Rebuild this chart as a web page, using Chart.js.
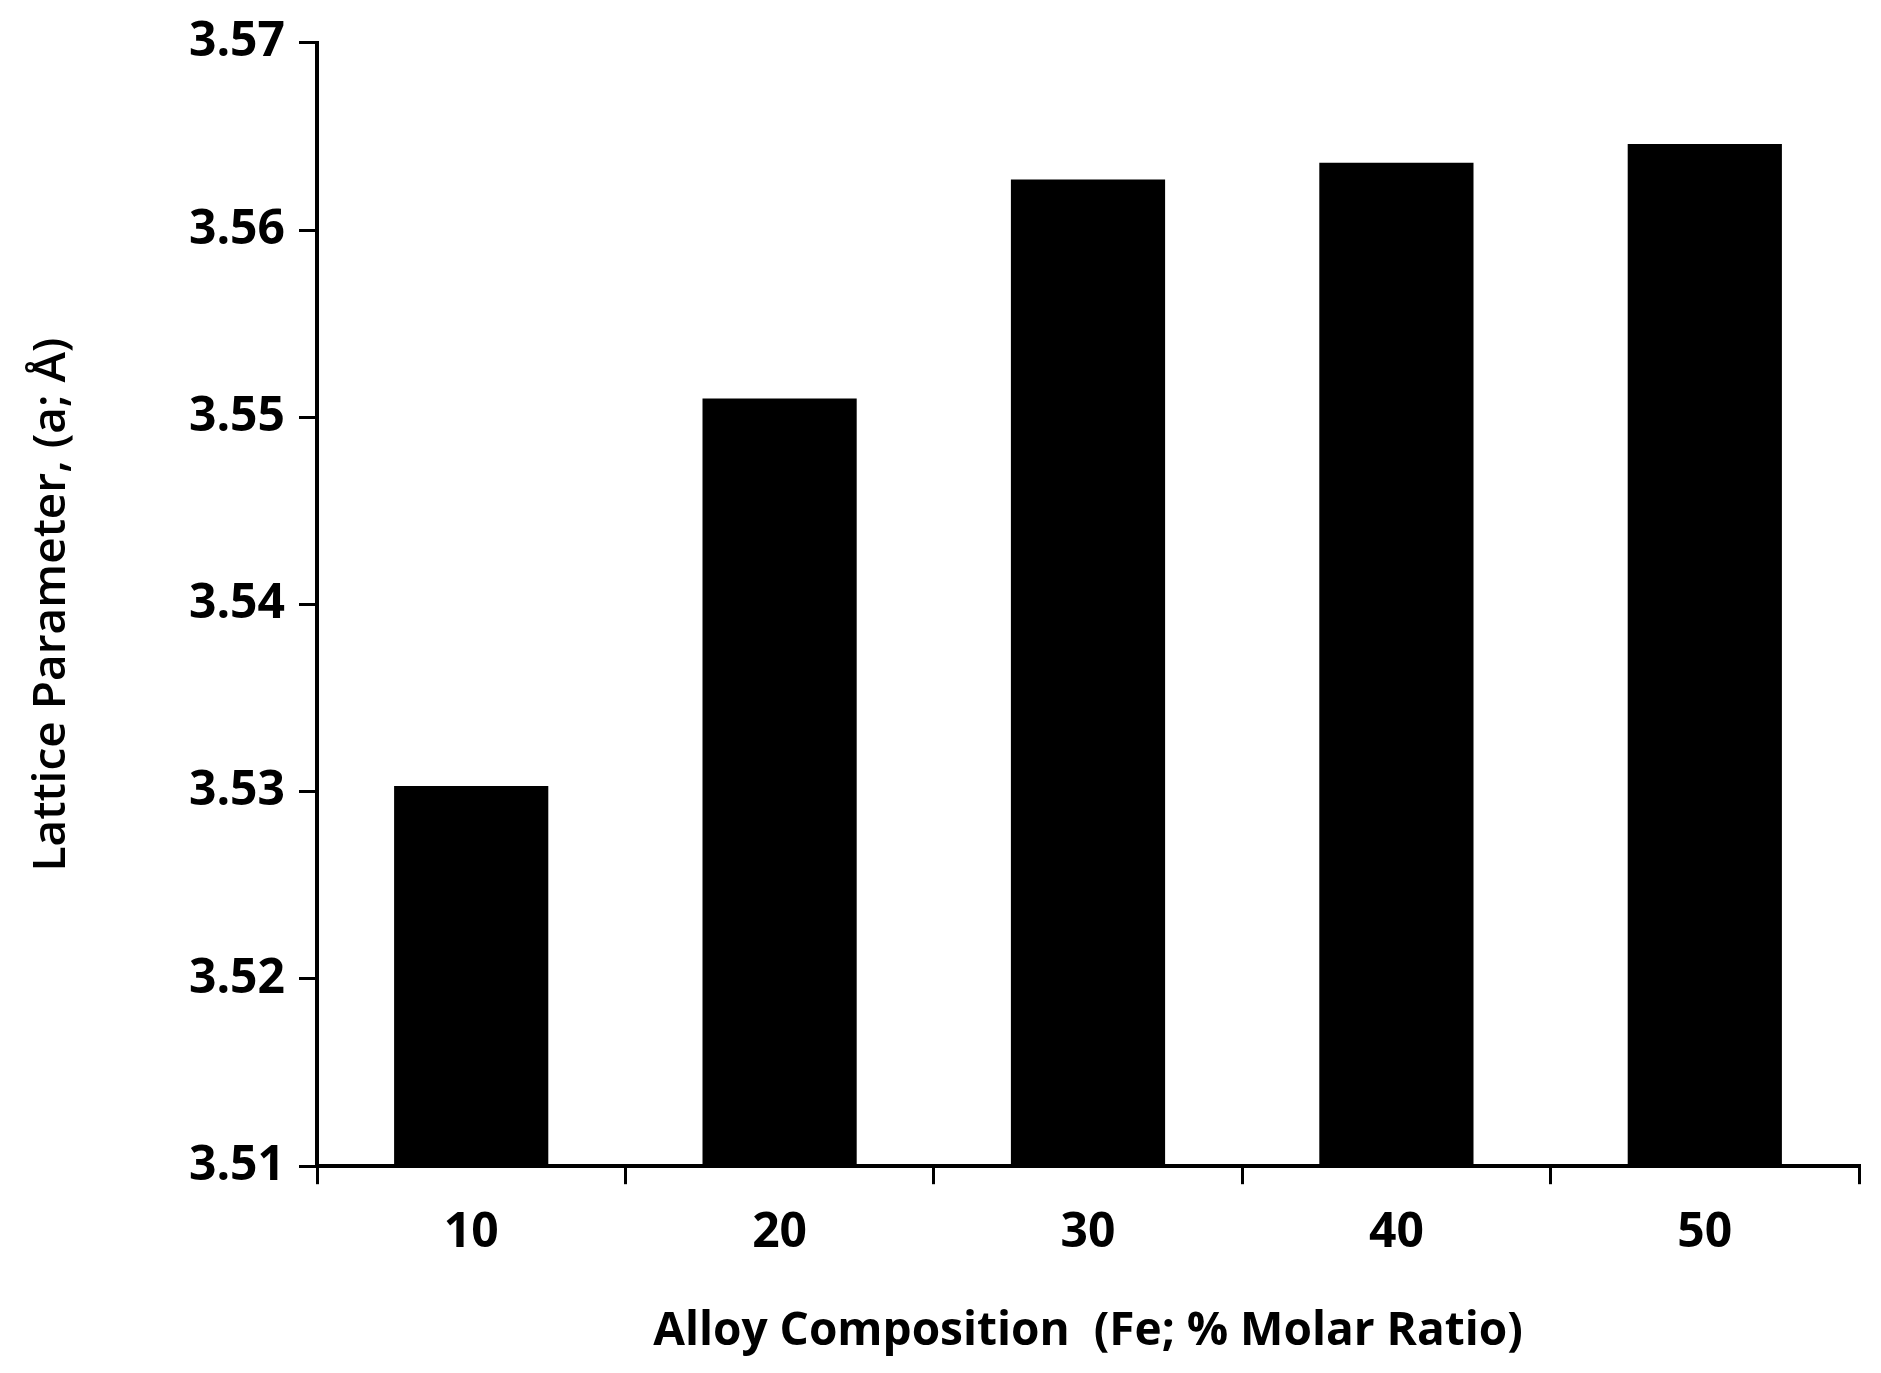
<!DOCTYPE html>
<html>
<head>
<meta charset="utf-8">
<script src="https://cdn.jsdelivr.net/npm/chart.js@4"></script>
<style>
  html, body { margin: 0; padding: 0; background: #fff; }
  #wrap { width: 1881px; height: 1373px; }
</style>
</head>
<body>
<div id="wrap"><canvas id="chart"></canvas></div>
<script>
const categories = ["10", "20", "30", "40", "50"];
const latticeValues = [3.5303, 3.5510, 3.5627, 3.5636, 3.5646];
const yMin = 3.51, yMax = 3.57, yStep = 0.01;

const font = "'Open Sans', 'Noto Sans', sans-serif";

new Chart(document.getElementById("chart"), {
  type: "bar",
  data: {
    labels: categories,
    datasets: [{
      data: latticeValues,
      backgroundColor: "#000",
      categoryPercentage: 1.0,
      barPercentage: 0.5
    }]
  },
  options: {
    responsive: true,
    maintainAspectRatio: false,
    animation: false,
    layout: { padding: { top: 36, right: 22, left: 20, bottom: 10 } },
    plugins: { legend: { display: false }, tooltip: { enabled: false } },
    scales: {
      x: {
        offset: true,
        grid: { offset: true, drawOnChartArea: false, color: "#000", lineWidth: 3, tickLength: 18 },
        border: { color: "#000", width: 4 },
        ticks: { color: "#000", font: { family: font, size: 48, weight: "bold" }, padding: 20 },
        title: { display: true, text: "Alloy Composition  (Fe; % Molar Ratio)", color: "#000",
                 font: { family: font, size: 46, weight: "bold" }, padding: { top: 22 } }
      },
      y: {
        min: yMin, max: yMax,
        afterFit: (s) => { s.width = 297; },
        grid: { drawOnChartArea: false, color: "#000", lineWidth: 3, tickLength: 18 },
        border: { color: "#000", width: 4 },
        ticks: { stepSize: yStep, color: "#000", padding: 14,
                 font: { family: font, size: 48, weight: "bold" },
                 callback: (v) => v.toFixed(2) },
        title: { display: true, text: "Lattice Parameter, (a; Å)", color: "#000",
                 font: { family: font, size: 46, weight: "600" }, padding: { bottom: 10 } }
      }
    }
  }
});
</script>
</body>
</html>
